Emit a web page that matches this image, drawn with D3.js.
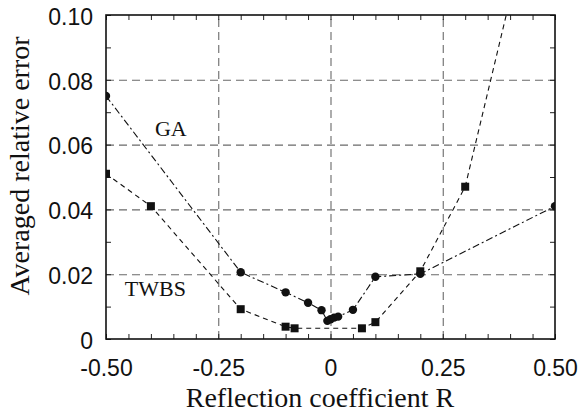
<!DOCTYPE html>
<html>
<head>
<meta charset="utf-8">
<script src="https://cdn.jsdelivr.net/npm/d3@7"></script>
<style>
  body { margin: 0; background: #fff; }
</style>
</head>
<body>
<div id="grafica"></div>
<script>
// datos
ga_r     = [-0.5, -0.2, -0.1, -0.05, -0.02, -0.007, 0, 0.008, 0.017, 0.05, 0.1, 0.2, 0.5]
ga_err   = [0.075, 0.0206, 0.0144, 0.0112, 0.0089, 0.0056, 0.0061, 0.0066, 0.0069, 0.009, 0.0192, 0.0201, 0.041]
twbs_r   = [-0.5, -0.4, -0.2, -0.1, -0.08, 0.07, 0.1, 0.2, 0.3, 0.4]
twbs_err = [0.051, 0.041, 0.0092, 0.0038, 0.0033, 0.0033, 0.0052, 0.0209, 0.047, 0.105]

x_ticks  = [-0.5, -0.25, 0, 0.25, 0.5]
x_labels = ['-0.50', '-0.25', '0', '0.25', '0.50']
y_ticks  = [0, 0.02, 0.04, 0.06, 0.08, 0.1]
y_labels = ['0', '0.02', '0.04', '0.06', '0.08', '0.10']
x_grid   = [-0.25, 0, 0.25]
y_grid   = [0.02, 0.04, 0.06, 0.08]

ancho_total = 580
alto_total  = 414
margin = { left: 106, right: 25, top: 15, bottom: 75 }

ancho = ancho_total - margin.left - margin.right
alto  = alto_total - margin.top - margin.bottom

svg = d3
        .select('#grafica')
        .append('svg')
        .attr('width', ancho_total)
        .attr('height', alto_total)

g = svg
      .append('g')
      .attr('transform', 'translate(' + margin.left + ',' + margin.top + ')')

x = d3
      .scaleLinear()
      .domain([-0.5, 0.5])
      .range([0, ancho])
y = d3
      .scaleLinear()
      .domain([0, 0.1])
      .range([alto, 0])

svg.append('defs')
   .append('clipPath')
   .attr('id', 'clip')
   .append('rect')
   .attr('width', ancho)
   .attr('height', alto)

// rejilla
gridX = g.append('g')
          .attr('transform', `translate(0, ${alto})`)
          .call(d3.axisBottom(x).tickValues(x_grid).tickSize(-alto).tickFormat(''))
gridY = g.append('g')
          .call(d3.axisLeft(y).tickValues(y_grid).tickSize(-ancho).tickFormat(''))
;[gridX, gridY].forEach((gr) => {
  gr.select('.domain').remove()
  gr.selectAll('line')
    .attr('stroke', '#6a6a6a')
    .attr('stroke-width', 1.1)
    .attr('stroke-dasharray', '8,5')
})

// ticks menores hacia adentro
minor = [
  [d3.axisBottom(x).ticks(20), `translate(0, ${alto})`],
  [d3.axisTop(x).ticks(20), 'translate(0, 0)'],
  [d3.axisLeft(y).ticks(10), 'translate(0, 0)'],
  [d3.axisRight(y).ticks(10), `translate(${ancho}, 0)`]
]
minor.forEach(([ax, tr]) => {
  m = g.append('g')
        .attr('transform', tr)
        .call(ax.tickSize(-5).tickFormat(''))
  m.select('.domain').remove()
  m.selectAll('line').attr('stroke', '#222').attr('stroke-width', 1)
})

// etiquetas de los ejes
xAxis = g.append('g')
          .attr('transform', `translate(0, ${alto})`)
          .call(d3.axisBottom(x).tickValues(x_ticks).tickSize(0).tickPadding(21)
                  .tickFormat((d, i) => x_labels[i]))
yAxis = g.append('g')
          .call(d3.axisLeft(y).tickValues(y_ticks).tickSize(0).tickPadding(13)
                  .tickFormat((d, i) => y_labels[i]))
;[xAxis, yAxis].forEach((ax) => {
  ax.select('.domain').remove()
  ax.selectAll('text')
    .attr('font-family', 'Liberation Sans, Arial, sans-serif')
    .attr('font-size', '23px')
    .attr('fill', '#111')
})
yAxis.selectAll('text').attr('dy', '0.4em')

// marco
g.append('rect')
  .attr('width', ancho)
  .attr('height', alto)
  .attr('fill', 'none')
  .attr('stroke', '#111')
  .attr('stroke-width', 1.6)

// series
ga   = ga_r.map((r, i) => ({ r: r, e: ga_err[i] }))
twbs = twbs_r.map((r, i) => ({ r: r, e: twbs_err[i] }))

linea = d3.line().x((d) => x(d.r)).y((d) => y(d.e))

datos = g.append('g').attr('clip-path', 'url(#clip)')

datos.append('path')
      .datum(ga)
      .attr('d', linea)
      .attr('fill', 'none')
      .attr('stroke', '#111')
      .attr('stroke-width', 1.1)
      .attr('stroke-dasharray', '7,3,2,3')
datos.append('path')
      .datum(twbs)
      .attr('d', linea)
      .attr('fill', 'none')
      .attr('stroke', '#111')
      .attr('stroke-width', 1.1)
      .attr('stroke-dasharray', '5,4')

datos.selectAll('circle')
      .data(ga)
      .enter()
      .append('circle')
      .attr('cx', (d) => x(d.r))
      .attr('cy', (d) => y(d.e))
      .attr('r', 4.2)
      .attr('fill', '#111')
datos.selectAll('rect')
      .data(twbs)
      .enter()
      .append('rect')
      .attr('x', (d) => x(d.r) - 4)
      .attr('y', (d) => y(d.e) - 4)
      .attr('width', 8)
      .attr('height', 8)
      .attr('fill', '#111')

// rotulos
g.append('text')
  .attr('x', x(-0.391))
  .attr('y', y(0.0627))
  .attr('font-family', 'Liberation Serif, Times New Roman, serif')
  .attr('font-size', '22px')
  .attr('fill', '#111')
  .text('GA')
g.append('text')
  .attr('x', x(-0.458))
  .attr('y', y(0.0134))
  .attr('font-family', 'Liberation Serif, Times New Roman, serif')
  .attr('font-size', '22px')
  .attr('fill', '#111')
  .text('TWBS')

// titulos
svg.append('text')
    .attr('x', 320)
    .attr('y', 407)
    .attr('text-anchor', 'middle')
    .attr('font-family', 'Liberation Serif, Times New Roman, serif')
    .attr('font-size', '28px')
    .attr('fill', '#111')
    .text('Reflection coefficient R')
svg.append('text')
    .attr('transform', 'translate(29, 166) rotate(-90)')
    .attr('text-anchor', 'middle')
    .attr('font-family', 'Liberation Serif, Times New Roman, serif')
    .attr('font-size', '28px')
    .attr('fill', '#111')
    .text('Averaged relative error')
</script>
</body>
</html>
